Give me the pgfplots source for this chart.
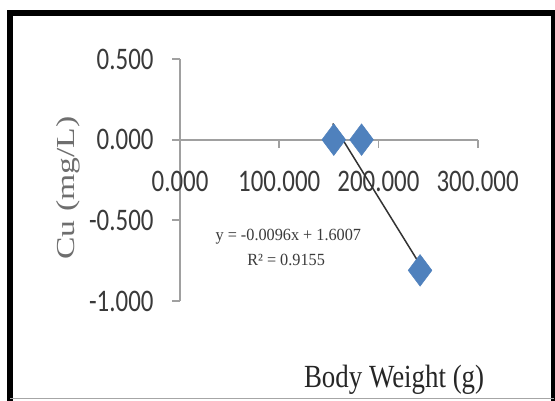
\documentclass[border=0pt]{standalone}
\usepackage{pgfplots}
\pgfplotsset{compat=1.18}
\usepackage{fontspec}
\setmainfont{Liberation Serif}
\newfontfamily\tickfont{Carlito}
\definecolor{excelblue}{HTML}{4F81BD}
\definecolor{axisgray}{HTML}{A0A0A0}
\definecolor{ticktext}{HTML}{3A3A3A}
\definecolor{labelgray}{HTML}{6E6E6E}
\begin{document}
\begin{tikzpicture}[x=1bp,y=1bp]
\useasboundingbox (0,0) rectangle (555,400);
\fill[white] (0,0) rectangle (555,400);
\begin{axis}[
  at={(172.6bp,99bp)}, anchor=south west,
  scale only axis, width=305bp, height=242bp,
  xmin=-7.5, xmax=300, ymin=-1, ymax=0.5,
  axis lines=middle,
  axis line style={-, draw=axisgray, line width=1.8bp},
  xtick={0,100,200,300}, ytick={-1,-0.5,0,0.5},
  hide obscured x ticks=false, hide obscured y ticks=false,
  tick style={draw=axisgray, line width=1.8bp},
  major tick length=8bp,
  xtick align=outside, ytick align=outside,
  xticklabel={\scalebox{1}[1.26]{\fontsize{25}{30}\selectfont\tickfont\pgfmathprintnumber[assume math mode=true,fixed,fixed zerofill,precision=3]{\tick}}},
  yticklabel={\scalebox{1}[1.26]{\fontsize{25}{30}\selectfont\tickfont\pgfmathprintnumber[assume math mode=true,fixed,fixed zerofill,precision=3]{\tick}}},
  xticklabel style={anchor=north, yshift=-19.5bp, text=ticktext},
  yticklabel style={anchor=east, xshift=-15bp, text=ticktext},
  every axis x label/.style={at={(axis cs:215.8,-1.539)}, anchor=base},
  every axis y label/.style={at={(axis cs:-112.6,-0.30)}, anchor=center, rotate=90},
  xlabel={\scalebox{1}[1.2]{\fontsize{27}{32}\selectfont Body Weight (g)}},
  ylabel={\scalebox{1.3}[1]{\fontsize{26}{31}\selectfont Cu (mg/L)}},
  xlabel style={text=black!85},
  ylabel style={text=labelgray},
  clip=false,
]
\addplot[only marks, mark=diamond*, mark size=15.8bp, mark options={fill=excelblue, draw=excelblue, line width=0.5bp}]
  coordinates {(155,0) (183,0) (242,-0.81)};
\addplot[black!80, line width=1.5bp] coordinates {(154,0.10) (241.5,-0.77)};
\node[anchor=center, text=ticktext, inner sep=0pt] at (axis cs:109.2,-0.6014) {\scalebox{1}[1.05]{\fontsize{16.3}{19}\selectfont y = -0.0096x + 1.6007}};
\node[anchor=center, text=ticktext, inner sep=0pt] at (axis cs:106.9,-0.7458) {\scalebox{1}[1.05]{\fontsize{16.3}{19}\selectfont R² = 0.9155}};
\end{axis}
\draw[black, line width=6bp, line join=miter] (10,-5) -- (10,386.5) -- (554,386.5) -- (554,-5);
\draw[gray!70, line width=1.5bp] (10,1.5) -- (554,1.5);
\end{tikzpicture}
\end{document}
